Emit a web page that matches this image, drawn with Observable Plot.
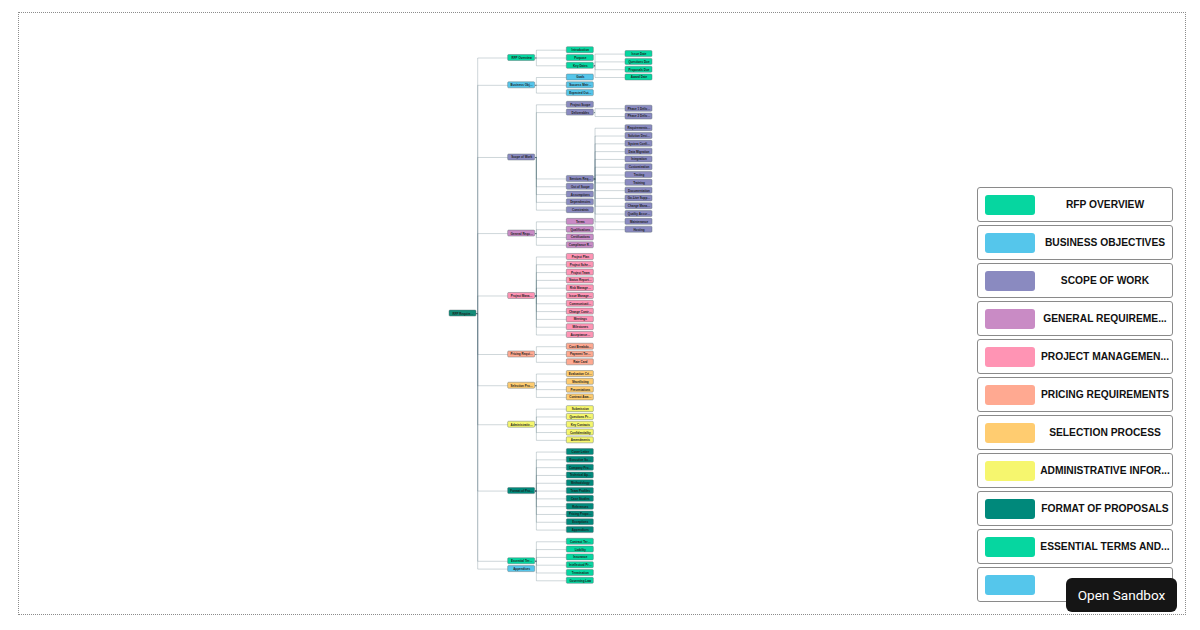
<!DOCTYPE html>
<html>
<head>
<meta charset="utf-8">
<script src="https://cdn.jsdelivr.net/npm/d3@7"></script>
<script src="https://cdn.jsdelivr.net/npm/@observablehq/plot@0.6"></script>
<style>
html,body{margin:0;padding:0;background:#fff;width:1200px;height:630px;overflow:hidden;font-family:"Liberation Sans",Arial,sans-serif}
#chart{position:absolute;left:0;top:0}
#frame{position:absolute;left:18px;top:12px;width:1168px;height:603px;border:1px dotted #8c8c8c;box-sizing:border-box;pointer-events:none}
#legend{position:absolute;left:977px;top:187px;width:196px}
.item{box-sizing:border-box;height:35px;margin-bottom:3px;border:1px solid #8a8a8a;border-radius:3px;position:relative;background:#fff}
.sw{position:absolute;left:7px;top:7px;width:50px;height:20px;border-radius:3px}
.lab{position:absolute;left:58px;width:138px;top:0;line-height:33px;text-align:center;font-family:"Liberation Sans",Arial,sans-serif;font-weight:700;font-size:10.25px;white-space:nowrap;color:#111}
#btn{position:absolute;left:1066px;top:578px;width:111px;height:34px;background:#151515;border-radius:6px;color:#fff;font-family:Roboto,"Liberation Sans",sans-serif;font-size:13.6px;line-height:34px;text-align:center}
</style>
</head>
<body>
<div id="chart"></div>
<div id="frame"></div>
<div id="legend"></div>
<div id="btn">Open Sandbox</div>
<script>
// ---- data ----
const rootName = "RFP Requirements";
const categories = ["RFP Overview","Business Objectives","Scope of Work","General Requirements","Project Management Requirements","Pricing Requirements","Selection Process","Administrative Information","Format of Proposals","Essential Terms and Conditions","Appendices"];
const rfpOverview = ["Introduction","Purpose","Key Dates"];
const keyDates = ["Issue Date","Questions Due","Proposals Due","Award Date"];
const businessObjectives = ["Goals","Success Metrics","Expected Outcomes"];
const scopeOfWork = ["Project Scope","Deliverables","Services Required","Out of Scope","Assumptions","Dependencies","Constraints"];
const deliverables = ["Phase 1 Deliverables","Phase 2 Deliverables"];
const servicesRequired = ["Requirements Analysis","Solution Design","System Configuration","Data Migration","Integration","Customization","Testing","Training","Documentation","Go-Live Support","Change Management","Quality Assurance","Maintenance","Hosting"];
const generalRequirements = ["Terms","Qualifications","Certifications","Compliance Requirements"];
const projectManagement = ["Project Plan","Project Schedule","Project Team","Status Reporting","Risk Management","Issue Management","Communication Plan","Change Control","Meetings","Milestones","Acceptance Criteria"];
const pricingRequirements = ["Cost Breakdown","Payment Terms","Rate Card"];
const selectionProcess = ["Evaluation Criteria","Shortlisting","Presentations","Contract Award"];
const administrativeInfo = ["Submission","Questions Process","Key Contacts","Confidentiality","Amendments"];
const formatOfProposals = ["Cover Letter","Executive Summary","Company Profile","Technical Approach","Methodology","Team Profiles","Case Studies","References","Pricing Proposal","Exceptions","Appendices"];
const essentialTerms = ["Contract Terms","Liability","Insurance","Intellectual Property","Termination","Governing Law"];
const appendices = [];
const subChildren = {"Key Dates": keyDates, "Deliverables": deliverables, "Services Required": servicesRequired};
const categoryChildren = [rfpOverview,businessObjectives,scopeOfWork,generalRequirements,projectManagement,pricingRequirements,selectionProcess,administrativeInfo,formatOfProposals,essentialTerms,appendices];

// ---- styles ----
const palette = ["#06D6A0","#55C6EB","#8A8AC0","#C98BC5","#FF94B4","#FFA991","#FFCC70","#F6F66E","#00897B","#06D6A0","#55C6EB"];
const rootColor = "#138C78";

// ---- hierarchy ----
function node(name){
  const kids = subChildren[name];
  return kids ? {name, children: kids.map(k => ({name:k}))} : {name};
}
const treeData = {name: rootName, children: categories.map((c,i) => categoryChildren[i].length ? {name:c, children: categoryChildren[i].map(node)} : {name:c})};
const root = d3.hierarchy(treeData);
d3.tree().nodeSize([1,1]).separation((a,b) => a.parent === b.parent ? 1 : 1.5)(root);

const nodes = root.descendants().map(d => ({
  name: d.data.name, depth: d.depth, pos: d.x,
  cat: d.depth === 0 ? null : d.ancestors().at(-2).data.name
}));
const links = root.links().map(l => ({sd:l.source.depth, sp:l.source.x, td:l.target.depth, tp:l.target.x}));

const [pmin, pmax] = d3.extent(nodes, d => d.pos);
const yRange = [49.7, 580.3];
const xRange = [449, 625];
const unitX = (xRange[1]-xRange[0]) / 3;
const unitY = (yRange[1]-yRange[0]) / (pmax - pmin);
const bw = 27 / unitX;      // box width in depth units
const hh = 3 / unitY;       // half box height in layout units
const gapX = 1.2 / unitX;

const fillOf = d => d.depth === 0 ? rootColor : palette[categories.indexOf(d.cat)];

const chart = Plot.plot({
  width: 1200, height: 630,
  marginTop: 0, marginRight: 0, marginBottom: 0, marginLeft: 0,
  x: {domain: [0,3], range: xRange, axis: null},
  y: {domain: [pmin, pmax], range: yRange, axis: null},
  style: {background: "transparent"},
  marks: [
    Plot.link(links, {
      x1: d => d.sd + bw + gapX, y1: "sp", x2: "td", y2: "tp",
      curve: "step-before", stroke: "#4F6B77", strokeOpacity: 0.27, strokeWidth: 1
    }),
    Plot.link(links, {
      x1: d => d.sd + bw, y1: "sp", x2: d => d.sd + bw + gapX, y2: "sp",
      stroke: "#4F6B77", strokeOpacity: 0.5, strokeWidth: 1
    }),
    Plot.rect(nodes, {
      x1: "depth", x2: d => d.depth + bw, y1: d => d.pos - hh, y2: d => d.pos + hh,
      fill: fillOf, stroke: "#5f6f73", strokeOpacity: 0.55, strokeWidth: 0.8, rx: 1
    }),
    Plot.text(nodes, {
      x: d => d.depth + bw/2, y: "pos", text: "name",
      fontSize: 3, fontWeight: "bold", fill: "#1e1e1e", lineWidth: 7.5, textOverflow: "ellipsis",
      fontFamily: "Liberation Sans"
    })
  ]
});
document.getElementById("chart").append(chart);

// ---- legend ----
const legend = document.getElementById("legend");
const ctx = document.createElement("canvas").getContext("2d");
const fs = 10.25;
ctx.font = `bold ${fs}px "Liberation Sans"`;
const maxW = 12.75 * fs;
function fit(s){
  if (ctx.measureText(s).width <= maxW) return s;
  let n = s.length;
  while (n > 1 && ctx.measureText(s.slice(0, n) + "...").width > maxW) n--;
  return s.slice(0, n).trimEnd() + "...";
}
categories.forEach((c,i) => {
  const it = document.createElement("div"); it.className = "item";
  const sw = document.createElement("div"); sw.className = "sw"; sw.style.background = palette[i];
  const lb = document.createElement("div"); lb.className = "lab";
  lb.textContent = fit(c.toUpperCase());
  it.append(sw, lb); legend.append(it);
});
</script>
</body>
</html>
